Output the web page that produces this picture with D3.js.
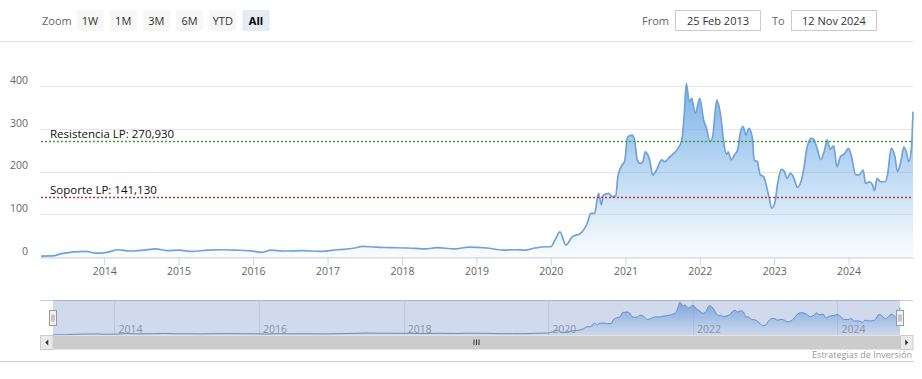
<!DOCTYPE html>
<html><head><meta charset="utf-8">
<script src="https://cdn.jsdelivr.net/npm/d3@7"></script>
<style>
html,body{margin:0;padding:0;background:#fff;}
svg{display:block;font-family:"Open Sans",sans-serif;}
</style></head><body>
<svg id="c" width="922" height="379"></svg>
<script>
const dates = [
"2013-02-25","2013-05-01","2013-06-05","2013-10-05","2013-11-18","2014-01-15","2014-03-10","2014-05-05","2014-07-12","2014-09-10","2014-11-10",
"2015-01-01","2015-03-10","2015-05-20","2015-07-25","2015-10-05","2015-12-10","2016-02-15","2016-03-28","2016-06-02","2016-08-28","2016-11-25",
"2017-02-18","2017-05-15","2017-06-20","2017-08-25","2017-11-05","2018-01-30","2018-04-28","2018-06-20","2018-09-15","2018-11-25",
"2019-02-20","2019-05-15","2019-07-05","2019-08-28","2019-10-15","2019-12-05","2020-01-01","2020-01-22","2020-02-15","2020-03-15",
"2020-04-15","2020-05-25","2020-06-28","2020-07-15","2020-08-03","2020-08-22","2020-09-05","2020-09-15","2020-10-12","2020-10-27",
"2020-11-15","2020-11-25","2020-12-15","2020-12-28","2021-01-12","2021-02-03","2021-02-15","2021-02-28","2021-03-15","2021-03-28",
"2021-04-08","2021-04-30","2021-05-15","2021-06-02","2021-06-28","2021-07-12","2021-08-08","2021-08-25","2021-09-10","2021-10-05",
"2021-10-16","2021-10-27","2021-11-10","2021-11-22","2021-12-10","2022-01-01","2022-01-20","2022-02-03","2022-02-20","2022-03-05",
"2022-03-25","2022-04-15","2022-04-28","2022-05-12","2022-05-20","2022-06-05","2022-06-20","2022-07-05","2022-07-22","2022-08-02",
"2022-08-15","2022-08-30","2022-09-15","2022-09-25","2022-10-10","2022-10-25","2022-11-10","2022-11-25","2022-12-08","2022-12-20",
"2023-01-05","2023-01-18","2023-02-05","2023-02-20","2023-03-05","2023-03-22","2023-04-08","2023-04-25","2023-05-12","2023-05-28",
"2023-06-10","2023-07-03","2023-07-15","2023-07-28","2023-08-18","2023-09-05","2023-09-18","2023-10-02","2023-10-20","2023-11-05",
"2023-11-22","2023-12-12","2024-01-01","2024-01-15","2024-02-05","2024-02-22","2024-03-12","2024-03-25","2024-04-12","2024-04-28",
"2024-05-07","2024-05-20","2024-06-05","2024-06-28","2024-07-10","2024-07-28","2024-08-15","2024-08-28","2024-09-15","2024-09-28",
"2024-10-10","2024-10-22","2024-11-05","2024-11-12"];
const prices = [
2,3,8,13,9,11,17,14,16,19,15,
16,13,16,17,16,15,11,16,14,15,13,
17,21,25,23,22,21,19,22,19,23,
21,16,17,16,21,24,24,40,59,28,
47,55,79,102,102,149,122,145,149,141,
143,188,215,223,281,285,274,227,219,223,
246,227,192,203,227,223,235,242,250,274,
328,406,363,371,336,371,320,301,270,281,
367,325,270,240,246,227,239,250,297,305,
285,301,281,227,223,192,188,164,137,114,
129,172,205,200,184,196,184,163,176,211,
254,278,274,258,228,250,274,252,260,211,
235,242,254,235,192,192,203,172,176,168,
155,184,176,176,192,254,235,200,227,257,
246,223,258,340];
const yTickValues = [0, 100, 200, 300, 400];
const zoomButtons = ["1W", "1M", "3M", "6M", "YTD", "All"];
const plotLineValues = [270.93, 141.13];
const plotLineLabels = ["Resistencia LP: 270,930", "Soporte LP: 141,130"];
const plotLineColors = ["#3f9f3f", "#b83535"];
const rangeFrom = "25 Feb 2013";
const rangeTo = "12 Nov 2024";
const creditText = "Estrategias de Inversión";

const parse = d3.timeParse("%Y-%m-%d");
const data = dates.map((d, i) => ({date: parse(d), v: prices[i]}));

const svg = d3.select("#c");
const defs = svg.append("defs");

const L = 41, R = 913, Y0 = 257, Y400 = 86;
const NL = 53, NR = 900, NT = 300, NB = 335;

const x = d3.scaleTime().domain(d3.extent(data, d => d.date)).range([L, R]);
const y = d3.scaleLinear().domain([0, 400]).range([Y0, Y400]);
const xn = d3.scaleTime().domain(x.domain()).range([NL, NR]);
const yn = d3.scaleLinear().domain([0, 410]).range([NB, NT + 2]);

const g1 = defs.append("linearGradient").attr("id", "ga").attr("gradientUnits", "userSpaceOnUse")
  .attr("x1", 0).attr("x2", 0).attr("y1", y(406)).attr("y2", Y0);
g1.append("stop").attr("offset", 0).attr("stop-color", "#76ade4").attr("stop-opacity", 0.95);
g1.append("stop").attr("offset", 1).attr("stop-color", "#7cb5ec").attr("stop-opacity", 0.04);
const g2 = defs.append("linearGradient").attr("id", "gn").attr("gradientUnits", "userSpaceOnUse")
  .attr("x1", 0).attr("x2", 0).attr("y1", NT).attr("y2", NB);
g2.append("stop").attr("offset", 0).attr("stop-color", "#6fa6e0").attr("stop-opacity", 0.9);
g2.append("stop").attr("offset", 1).attr("stop-color", "#7cb5ec").attr("stop-opacity", 0.05);

svg.append("line").attr("x1", 0).attr("x2", 914).attr("y1", 41.5).attr("y2", 41.5).attr("stroke", "#e3e3e3");
svg.append("line").attr("x1", 0).attr("x2", 914).attr("y1", 361.5).attr("y2", 361.5).attr("stroke", "#d0d0d0");

svg.append("text").attr("x", 42).attr("y", 24.5).attr("font-size", 11).attr("fill", "#666").text("Zoom");
const btn = svg.append("g").selectAll("g").data(zoomButtons).join("g")
  .attr("transform", (d, i) => `translate(${76.5 + i * 33.2},10)`);
btn.append("rect").attr("width", 27).attr("height", 21)
  .attr("fill", d => d === "All" ? "#e6ebf5" : "#f7f7f7");
btn.append("text").attr("x", 13.5).attr("y", 14.5).attr("text-anchor", "middle")
  .attr("font-size", 11).attr("fill", d => d === "All" ? "#000" : "#333")
  .attr("font-weight", d => d === "All" ? "bold" : "normal").text(d => d);

svg.append("text").attr("x", 642).attr("y", 24.5).attr("font-size", 11).attr("fill", "#666").text("From");
svg.append("rect").attr("x", 675.5).attr("y", 10.5).attr("width", 85).attr("height", 20).attr("fill", "#fff").attr("stroke", "#ccc");
svg.append("text").attr("x", 718).attr("y", 24.5).attr("text-anchor", "middle").attr("font-size", 11).attr("fill", "#333").text(rangeFrom);
svg.append("text").attr("x", 772).attr("y", 24.5).attr("font-size", 11).attr("fill", "#666").text("To");
svg.append("rect").attr("x", 791.5).attr("y", 10.5).attr("width", 85).attr("height", 20).attr("fill", "#fff").attr("stroke", "#ccc");
svg.append("text").attr("x", 834).attr("y", 24.5).attr("text-anchor", "middle").attr("font-size", 11).attr("fill", "#333").text(rangeTo);

svg.append("g").selectAll("line").data(yTickValues).join("line")
  .attr("x1", L - 1).attr("x2", R).attr("y1", d => Math.round(y(d)) + 0.5).attr("y2", d => Math.round(y(d)) + 0.5)
  .attr("stroke", "#e6e6e6");

const yAxis = d3.axisLeft(y).tickValues(yTickValues).tickSize(0).tickPadding(12).tickFormat(d3.format("d"));
const ya = svg.append("g").attr("transform", `translate(${L - 1},0)`).call(yAxis);
ya.select(".domain").remove();
ya.selectAll("text").attr("font-family", '"Open Sans",sans-serif').attr("font-size", 10.5).attr("fill", "#666").attr("y", -6);

defs.append("clipPath").attr("id", "cp").append("rect").attr("x", L).attr("y", 45).attr("width", R - L + 1).attr("height", Y0 - 45);

const area = d3.area().x(d => x(d.date)).y0(y(0)).y1(d => y(d.v)).curve(d3.curveMonotoneX);
const line = d3.line().x(d => x(d.date)).y(d => y(d.v)).curve(d3.curveMonotoneX);
const pg = svg.append("g").attr("clip-path", "url(#cp)");
pg.append("path").datum(data).attr("d", area).attr("fill", "url(#ga)");
pg.append("path").datum(data).attr("d", line).attr("fill", "none").attr("stroke", "#6fa3d9").attr("stroke-width", 1.7).attr("stroke-linejoin", "round");

plotLineValues.forEach((v, i) => {
  const yy = Math.round(y(v)) + 0.5;
  svg.append("line").attr("x1", L).attr("x2", R).attr("y1", yy).attr("y2", yy)
    .attr("stroke", plotLineColors[i]).attr("stroke-width", 1.4).attr("stroke-dasharray", "2,2");
  svg.append("text").attr("x", 50).attr("y", yy - 4).attr("font-size", 11.5).attr("fill", "#111").text(plotLineLabels[i]);
});

const xAxis = d3.axisBottom(x).ticks(d3.timeYear.every(1)).tickFormat(d3.timeFormat("%Y")).tickSize(8).tickPadding(2).tickSizeOuter(0);
const xa = svg.append("g").attr("transform", `translate(0,${Y0 + 0.5})`).call(xAxis);
xa.select(".domain").attr("stroke", "#ccd6eb");
xa.selectAll(".tick line").attr("stroke", "#ccd6eb");
xa.selectAll("text").attr("font-family", '"Open Sans",sans-serif').attr("font-size", 10.5).attr("fill", "#666");

svg.append("line").attr("x1", L - 1).attr("x2", R).attr("y1", NT + 0.5).attr("y2", NT + 0.5).attr("stroke", "#cccccc");
const navTicks = xn.ticks(d3.timeYear.every(2));
svg.append("g").selectAll("line").data(navTicks).join("line")
  .attr("x1", d => Math.round(xn(d)) + 0.5).attr("x2", d => Math.round(xn(d)) + 0.5)
  .attr("y1", NT).attr("y2", NB).attr("stroke", "#e6e6e6");
const areaN = d3.area().x(d => xn(d.date)).y0(NB).y1(d => yn(d.v)).curve(d3.curveMonotoneX);
const lineN = d3.line().x(d => xn(d.date)).y(d => yn(d.v)).curve(d3.curveMonotoneX);
svg.append("path").datum(data).attr("d", areaN).attr("fill", "url(#gn)");
svg.append("path").datum(data).attr("d", lineN).attr("fill", "none").attr("stroke", "#5d93d0").attr("stroke-width", 1);
svg.append("g").selectAll("text").data(navTicks).join("text")
  .attr("x", d => xn(d) + 4).attr("y", 333).attr("font-size", 10.5).attr("fill", "#999")
  .text(d3.timeFormat("%Y"));
svg.append("rect").attr("x", NL).attr("y", NT).attr("width", NR - NL).attr("height", NB - NT)
  .attr("fill", "rgba(102,133,194,0.3)");

svg.append("rect").attr("x", L - 1).attr("y", 335.5).attr("width", R - L + 1).attr("height", 14).attr("fill", "#f2f2f2");
svg.append("rect").attr("x", NL).attr("y", 335.5).attr("width", NR - NL).attr("height", 14).attr("fill", "#cccccc");
[[L - 0.5, -1], [NR + 0.5, 1]].forEach(([bx, dir]) => {
  svg.append("rect").attr("x", bx).attr("y", 335.5).attr("width", 12.5).attr("height", 14)
    .attr("fill", "#e9e9e9").attr("stroke", "#cccccc");
  const cx = bx + 6.25, cy = 342.5;
  svg.append("path").attr("d", `M${cx + dir * 1.5},${cy} L${cx - dir * 1.5},${cy - 3} L${cx - dir * 1.5},${cy + 3} Z`).attr("fill", "#333");
});
[-2.5, 0, 2.5].forEach(o => {
  svg.append("line").attr("x1", 476.5 + o).attr("x2", 476.5 + o).attr("y1", 339.5).attr("y2", 345)
    .attr("stroke", "#333").attr("stroke-width", 1);
});

[NL, NR].forEach(hx => {
  const g = svg.append("g").attr("transform", `translate(${Math.round(hx) - 3.5},310.5)`);
  g.append("rect").attr("width", 7).attr("height", 15).attr("fill", "#f2f2f2").attr("stroke", "#999");
  g.append("line").attr("x1", 2.5).attr("x2", 2.5).attr("y1", 4).attr("y2", 11).attr("stroke", "#999");
  g.append("line").attr("x1", 4.5).attr("x2", 4.5).attr("y1", 4).attr("y2", 11).attr("stroke", "#999");
});

svg.append("text").attr("x", 912).attr("y", 357.5).attr("text-anchor", "end").attr("font-size", 9).attr("fill", "#999").text(creditText);
</script>
</body></html>
